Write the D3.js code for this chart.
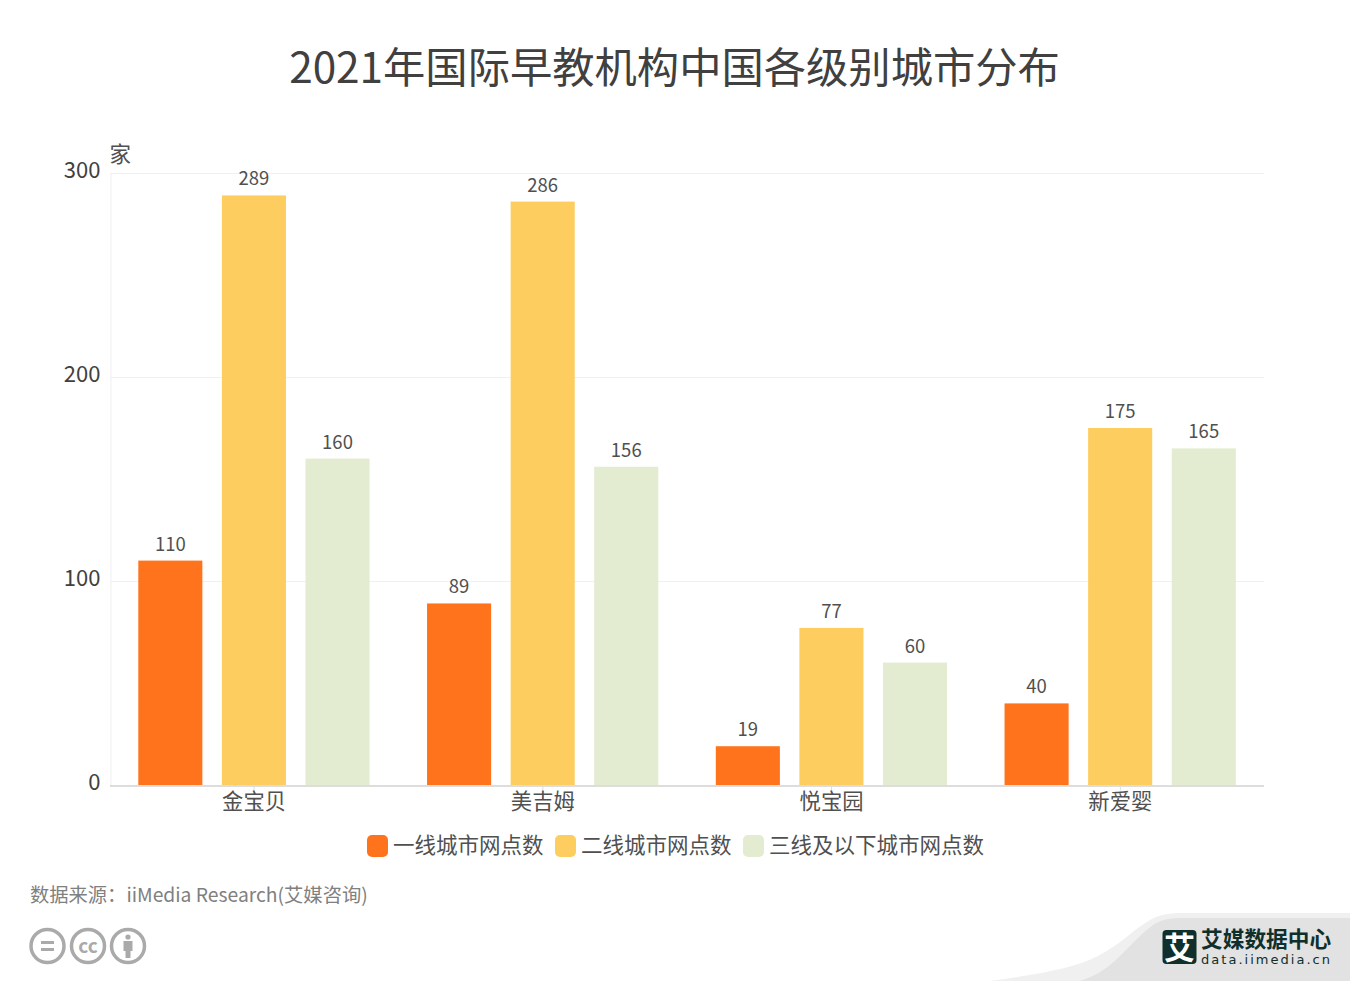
<!DOCTYPE html>
<html>
<head>
<meta charset="utf-8">
<title>2021年国际早教机构中国各级别城市分布</title>
<script src="https://d3js.org/d3.v7.min.js"></script>
<style>
html, body { margin: 0; padding: 0; background: #fff; }
svg { display: block; font-family: "Noto Sans CJK SC", "Noto Sans", sans-serif; }
</style>
</head>
<body>
<svg></svg>
<script>
// datos
var categorias = ["金宝贝", "美吉姆", "悦宝园", "新爱婴"];
var series = ["一线城市网点数", "二线城市网点数", "三线及以下城市网点数"];
var colores = ["#ff731c", "#fdcd60", "#e3ebd0"];
var valoresPrimera = [110, 89, 19, 40];
var valoresSegunda = [289, 286, 77, 175];
var valoresTercera = [160, 156, 60, 165];
var ticksY = [0, 100, 200, 300];
var valores = [valoresPrimera, valoresSegunda, valoresTercera];

var svgWidth = 1350, svgHeight = 982;
var fuente = '"Noto Sans CJK SC", "Noto Sans", sans-serif';
var svg = d3.select("svg").attr("width", svgWidth).attr("height", svgHeight);

// titulo
svg.append("text")
    .attr("x", 674.5).attr("y", 83)
    .attr("text-anchor", "middle")
    .attr("font-size", 42.3)
    .attr("fill", "#404040")
    .text("2021年国际早教机构中国各级别城市分布");

// escalas
var xScale = d3.scaleBand().domain(categorias).range([109.7, 1264.7]);
var xSerie = d3.scaleBand().domain(d3.range(series.length))
    .range([28.6, xScale.bandwidth() - 28.9])
    .paddingInner(0.2335);
var yScale = d3.scaleLinear().domain([0, 300]).range([785, 173]);

// lineas de la grilla
svg.append("g").selectAll("line")
    .data(ticksY.slice(1))
    .enter().append("line")
    .attr("x1", 110).attr("x2", 1264)
    .attr("y1", function (d) { return yScale(d) + 0.5; })
    .attr("y2", function (d) { return yScale(d) + 0.5; })
    .attr("stroke", "#f0f0f0");

// eje y
var ejeY = svg.append("g")
    .attr("transform", "translate(110.5,0.5)")
    .call(d3.axisLeft(yScale).tickValues(ticksY).tickSize(0).tickPadding(10));
ejeY.attr("font-family", fuente);
ejeY.select(".domain").attr("stroke", "#efefef");
ejeY.selectAll("text")
    .attr("font-size", 22)
    .attr("fill", "#404040")
    .attr("dy", "0.2em");

svg.append("text")
    .attr("x", 109.5).attr("y", 162)
    .attr("font-size", 21.5)
    .attr("fill", "#505050")
    .text("家");

// barras
var grupos = svg.append("g").selectAll("g")
    .data(series)
    .enter().append("g")
    .attr("fill", function (d, i) { return colores[i]; });

grupos.each(function (s, i) {
    var g = d3.select(this);
    g.selectAll("rect")
        .data(valores[i])
        .enter().append("rect")
        .attr("x", function (d, j) { return xScale(categorias[j]) + xSerie(i); })
        .attr("y", function (d) { return yScale(d); })
        .attr("width", xSerie.bandwidth())
        .attr("height", function (d) { return yScale(0) - yScale(d); });
    g.selectAll("text")
        .data(valores[i])
        .enter().append("text")
        .attr("x", function (d, j) { return xScale(categorias[j]) + xSerie(i) + xSerie.bandwidth() / 2; })
        .attr("y", function (d) { return yScale(d) - 10; })
        .attr("text-anchor", "middle")
        .attr("font-size", 18.5)
        .attr("fill", "#505050")
        .text(function (d) { return d; });
});

// eje x
var ejeX = svg.append("g")
    .attr("transform", "translate(0,785.5)")
    .call(d3.axisBottom(xScale).tickSize(5).tickPadding(4).tickSizeOuter(0));
ejeX.attr("font-family", fuente);
ejeX.select(".domain").attr("stroke", "#bbb").attr("d", "M110,0.5H1264");
ejeX.selectAll("line").attr("stroke", "#ddd");
ejeX.selectAll("text")
    .attr("font-size", 21.3)
    .attr("fill", "#505050")
    .attr("dy", "0.7em");

// leyenda
var posLeyenda = [367, 555, 743];
var leyenda = svg.append("g").selectAll("g")
    .data(series)
    .enter().append("g")
    .attr("transform", function (d, i) { return "translate(" + posLeyenda[i] + ",835)"; });
leyenda.append("rect")
    .attr("width", 21).attr("height", 22).attr("rx", 5)
    .attr("fill", function (d, i) { return colores[i]; });
leyenda.append("text")
    .attr("x", 26).attr("y", 18)
    .attr("font-size", 21.5)
    .attr("fill", "#505050")
    .text(function (d) { return d; });

// fuente
svg.append("text")
    .attr("x", 30).attr("y", 902)
    .attr("font-size", 19.3)
    .attr("fill", "#808080")
    .text("数据来源：iiMedia Research(艾媒咨询)");

// iconos cc
var iconos = svg.append("g").attr("fill", "none").attr("stroke", "#aaa").attr("stroke-width", 3.5);
[47.5, 88, 128].forEach(function (cx) {
    iconos.append("circle").attr("cx", cx).attr("cy", 946).attr("r", 16.5);
});
iconos.append("rect").attr("x", 41).attr("y", 941).attr("width", 13).attr("height", 3).attr("fill", "#aaa").attr("stroke", "none");
iconos.append("rect").attr("x", 41).attr("y", 948).attr("width", 13).attr("height", 3).attr("fill", "#aaa").attr("stroke", "none");
svg.append("text").attr("x", 88).attr("y", 952.5)
    .attr("text-anchor", "middle").attr("font-size", 19).attr("font-weight", 700)
    .attr("fill", "#aaa").text("cc");
svg.append("circle").attr("cx", 128).attr("cy", 937).attr("r", 2.6).attr("fill", "#aaa");
svg.append("path").attr("fill", "#aaa")
    .attr("d", "M123.5 941h9v10h-2v7h-5v-7h-2z");

// fondo del logo
svg.append("path").attr("fill", "#f0f0f0")
    .attr("d", "M990 981C1040 974 1075 968 1098 956C1120 945 1135 928 1150 920C1160 914 1170 913 1185 913L1350 913L1350 981Z");
svg.append("path").attr("fill", "#e2e2e2")
    .attr("d", "M1080 981C1095 976 1105 970 1118 958C1130 946 1142 933 1153 925C1162 919 1170 918 1185 918L1350 918L1350 981Z");

// logo
svg.append("rect")
    .attr("x", 1162.5).attr("y", 930).attr("width", 34).attr("height", 34).attr("rx", 4)
    .attr("fill", "#0e2f2c");
svg.append("text")
    .attr("x", 1179.5).attr("y", 959)
    .attr("text-anchor", "middle").attr("font-size", 31).attr("font-weight", 700)
    .attr("fill", "#fff").text("艾");
svg.append("text")
    .attr("x", 1201).attr("y", 946.5)
    .attr("font-size", 21.7).attr("font-weight", 700)
    .attr("fill", "#0e2f2c").text("艾媒数据中心");
svg.append("text")
    .attr("x", 1201).attr("y", 964)
    .attr("font-family", "'DejaVu Sans', sans-serif")
    .attr("font-size", 13)
    .attr("textLength", 129)
    .attr("fill", "#0e2f2c").text("data.iimedia.cn");
</script>
</body>
</html>
